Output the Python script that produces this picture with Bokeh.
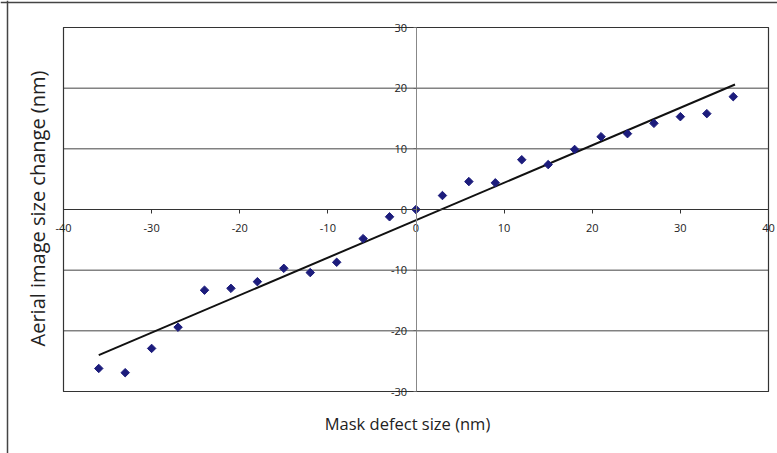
from bokeh.plotting import figure
from bokeh.models import ColumnDataSource, FixedTicker, Label, LinearAxis, Range1d, Span
from bokeh.embed import file_html
from bokeh.resources import INLINE
import math

# data
defect_size = [-36, -33, -30, -27, -24, -21, -18, -15, -12, -9, -6, -3, 0,
               3, 6, 9, 12, 15, 18, 21, 24, 27, 30, 33, 36]
image_change = [-26.2, -26.9, -22.9, -19.4, -13.3, -13.0, -11.9, -9.7, -10.4, -8.7,
                -4.8, -1.2, 0.0, 2.3, 4.6, 4.4, 8.2, 7.4, 9.9, 12.0, 12.5, 14.2,
                15.3, 15.8, 18.6]
trend_x = [-36.0, 36.2]
trend_y = [-24.0, 20.6]
x_ticks = [-40, -30, -20, -10, 0, 10, 20, 30, 40]
y_ticks = [-30, -20, -10, 0, 10, 20, 30]
x_title = "Mask defect size (nm)"
y_title = "Aerial image size change (nm)"

FONT = "Open Sans"
W, H = 777, 453
# plot-area placement on the canvas (pixels)
PL, PR, PT, PB = 63, 768, 27, 391
XMIN, XMAX = x_ticks[0], x_ticks[-1]
YMIN, YMAX = y_ticks[0], y_ticks[-1]
sx = (PR - PL) / (XMAX - XMIN)
sy = (PB - PT) / (YMAX - YMIN)
x0 = XMIN - PL / sx
x1 = XMAX + (W - PR) / sx
y1 = YMAX + PT / sy
y0 = YMIN - (H - PB) / sy

def px_x(px):
    return x0 + px / sx

def px_y(py):
    return y1 - py / sy

p = figure(width=W, height=H, output_backend="svg", toolbar_location=None,
           x_range=Range1d(x0, x1), y_range=Range1d(y0, y1),
           x_axis_type=None, y_axis_type=None,
           min_border_left=0, min_border_right=0, min_border_top=0, min_border_bottom=0)
p.outline_line_color = None
p.background_fill_color = "white"
p.border_fill_color = "white"
p.xgrid.grid_line_color = None
p.ygrid.grid_line_color = None

# outer chart border
p.add_layout(Span(location=px_x(7), dimension="height", line_color="#444444", line_width=1.5))
p.add_layout(Span(location=px_y(2), dimension="width", line_color="#444444", line_width=1.5))

# horizontal gridlines
p.segment(x0=[XMIN] * len(y_ticks), x1=[XMAX] * len(y_ticks), y0=y_ticks, y1=y_ticks,
          line_color="#444444", line_width=1)
# plot area border
p.quad(left=[XMIN], right=[XMAX], bottom=[YMIN], top=[YMAX],
       fill_color=None, line_color="#333333", line_width=1.2)

xaxis = LinearAxis(ticker=FixedTicker(ticks=x_ticks), fixed_location=0, bounds=(XMIN, XMAX))
xaxis.major_label_overrides = {t: str(t) for t in x_ticks}
xaxis.axis_line_color = "#333333"
xaxis.major_tick_line_color = "#333333"
xaxis.major_tick_out = 4
xaxis.major_tick_in = 0
xaxis.minor_tick_line_color = None
xaxis.major_label_standoff = 10
xaxis.major_label_text_font = FONT
xaxis.major_label_text_font_size = "11px"
xaxis.major_label_text_color = "#222222"
p.add_layout(xaxis, "below")

yaxis = LinearAxis(ticker=FixedTicker(ticks=y_ticks), fixed_location=0, bounds=(YMIN, YMAX))
yaxis.major_label_overrides = {t: str(t) for t in y_ticks}
yaxis.axis_line_color = "#888888"
yaxis.major_tick_line_color = "#666666"
yaxis.major_tick_out = 3
yaxis.major_tick_in = 0
yaxis.minor_tick_line_color = None
yaxis.major_label_standoff = 6
yaxis.major_label_text_font = FONT
yaxis.major_label_text_font_size = "11px"
yaxis.major_label_text_color = "#222222"
p.add_layout(yaxis, "left")

src = ColumnDataSource(dict(x=defect_size, y=image_change))
p.line(trend_x, trend_y, line_color="#111111", line_width=2)
p.scatter("x", "y", source=src, marker="square", angle=math.pi / 4, size=6,
          fill_color="#1c1c7c", line_color="#1c1c7c")

p.add_layout(Label(x=px_x(407), y=px_y(423), text=x_title,
                   text_font=FONT, text_font_size="16.5px",
                   text_align="center", text_baseline="middle", text_color="#222222"))
p.add_layout(Label(x=px_x(37), y=px_y(208), text=y_title,
                   text_font=FONT, text_font_size="20px",
                   text_align="center", text_baseline="middle", angle=math.pi / 2,
                   text_color="#222222"))

open("out.html", "w").write(file_html(p, INLINE))
